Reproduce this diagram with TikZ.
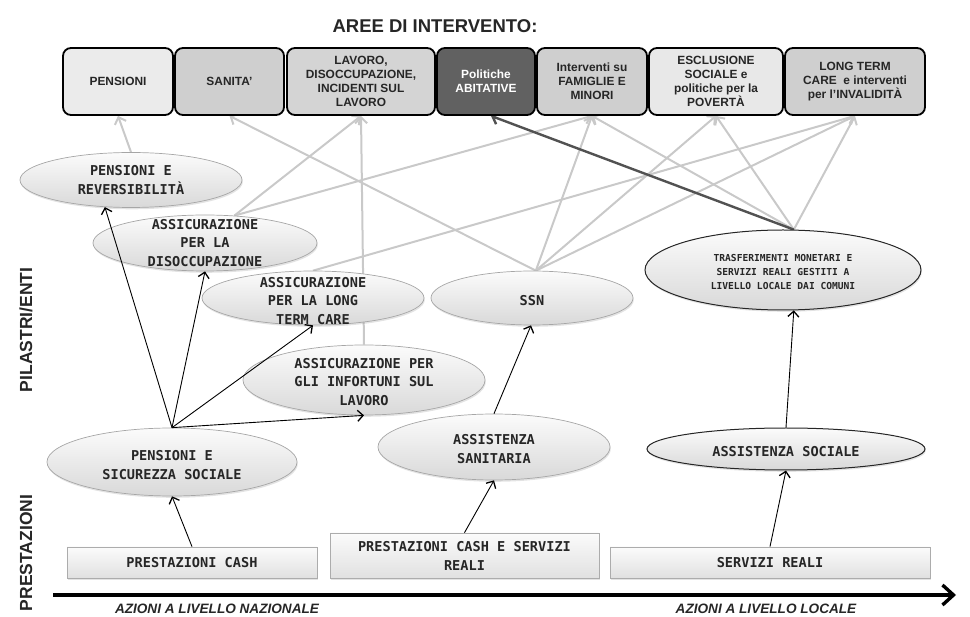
\documentclass[tikz,border=0pt]{standalone}
\usepackage{fontspec}
\setmainfont{Liberation Sans}
\newfontfamily\monofam{DejaVu Sans Mono}
\usetikzlibrary{shapes.geometric,arrows.meta,backgrounds,shadows}

\begin{document}
\begin{tikzpicture}[x=1pt,y=-1pt,
  areabox/.style={draw=black, line width=1.8pt, rounded corners=8pt,
    minimum height=67pt, inner sep=1pt, align=center, text=black!85,
    font=\fontsize{11.9}{14}\selectfont\bfseries},
  ente/.style={ellipse, draw=gray!70, line width=0.7pt, top color=gray!3,
    bottom color=gray!30, inner sep=0pt,
    drop shadow={opacity=0.22, shadow xshift=0.8pt, shadow yshift=-1.8pt}},
  entedark/.style={ente, draw=black!85, line width=1pt},
  entetext/.style={align=center, text=black!85, inner sep=0pt,
    font=\monofam\bfseries\fontsize{13.6}{18.6}\selectfont},
  prest/.style={rectangle, draw=gray!65, line width=0.7pt, top color=gray!3,
    bottom color=gray!24, inner sep=0pt, align=center, text=black!85,
    font=\monofam\bfseries\fontsize{13.6}{19}\selectfont,
    drop shadow={opacity=0.22, shadow xshift=0.8pt, shadow yshift=-1.5pt}},
  link/.style={draw=gray!42, line width=2pt,
    -{Straight Barb[length=6pt,width=12pt]}},
  linkdark/.style={draw=black!68, line width=2.4pt,
    -{Straight Barb[length=6pt,width=12pt]}},
  feed/.style={draw=black, line width=0.9pt,
    -{Straight Barb[length=5.5pt,width=11pt,line width=1.3pt]}},
  sidelabel/.style={rotate=90, font=\fontsize{17.5}{20}\selectfont\bfseries, text=black!85},
  axislabel/.style={anchor=base, font=\fontsize{13.6}{16}\selectfont\bfseries\itshape, text=black!85}
]
\useasboundingbox (0,0) rectangle (970,617);

% title
\node[font=\fontsize{18.5}{20}\selectfont\bfseries, text=black!85] (title) at (435,26) {AREE DI INTERVENTO:};

% areas of intervention
\node[areabox, fill=black!8,  minimum width=110pt] (pens) at (118,81.5) {PENSIONI};
\node[areabox, fill=black!19, minimum width=109pt] (san)  at (229.5,81.5) {SANITA'};
\node[areabox, fill=black!17, minimum width=148pt] (lav)  at (361,81.5) {LAVORO,\\DISOCCUPAZIONE,\\INCIDENTI SUL\\LAVORO};
\node[areabox, fill=black!62, minimum width=98pt, text=white] (abit) at (486,81.5) {Politiche\\ABITATIVE};
\node[areabox, fill=black!19, minimum width=110pt] (fam)  at (592,81.5) {Interventi su\\FAMIGLIE E\\MINORI};
\node[areabox, fill=black!9,  minimum width=134pt] (escl) at (716,81.5) {ESCLUSIONE\\SOCIALE e\\politiche per la\\POVERTÀ};
\node[areabox, fill=black!19, minimum width=140pt] (ltcarea) at (855,81.5) {LONG TERM\\CARE\ \ e interventi\\per l'INVALIDITÀ};

% side labels
\node[sidelabel] (pilastri) at (26,330) {PILASTRI/ENTI};
\node[sidelabel] (prestlab) at (26,553) {PRESTAZIONI};

% pillars / bodies
\node[ente, minimum width=222pt, minimum height=55pt,
  label={[entetext]center:PENSIONI E\\REVERSIBILITÀ}] (pensrev) at (131,180) {};
\node[ente, minimum width=224pt, minimum height=56pt,
  label={[entetext]center:ASSICURAZIONE\\PER LA\\DISOCCUPAZIONE}] (disocc) at (205,243) {};
\node[ente, minimum width=222pt, minimum height=54pt,
  label={[entetext, yshift=-3pt]center:ASSICURAZIONE\\PER LA LONG\\TERM CARE}] (ltc) at (313,298) {};
\node[ente, minimum width=202pt, minimum height=54pt,
  label={[entetext, yshift=-3pt]center:SSN}] (ssn) at (532,298) {};
\node[entedark, minimum width=276pt, minimum height=80pt,
  label={[entetext, font=\monofam\bfseries\fontsize{9.6}{14.2}\selectfont, yshift=-2pt]center:TRASFERIMENTI MONETARI E\\SERVIZI REALI GESTITI A\\LIVELLO LOCALE DAI COMUNI}] (trasf) at (783,270) {};
\node[ente, minimum width=242pt, minimum height=70pt,
  label={[entetext, yshift=-2pt]center:ASSICURAZIONE PER\\GLI INFORTUNI SUL\\LAVORO}] (infort) at (364,380) {};
\node[ente, minimum width=250pt, minimum height=68pt,
  label={[entetext, yshift=-3pt]center:PENSIONI E\\SICUREZZA SOCIALE}] (penssoc) at (172,462) {};
\node[ente, minimum width=232pt, minimum height=66pt,
  label={[entetext, yshift=-2pt]center:ASSISTENZA\\SANITARIA}] (asssan) at (494,447) {};
\node[entedark, minimum width=278pt, minimum height=42pt,
  label={[entetext, yshift=-3pt]center:ASSISTENZA SOCIALE}] (asssoc) at (786,449) {};

% benefits
\node[prest, minimum width=250pt, minimum height=31pt] (pcash) at (192,562.5) {PRESTAZIONI CASH};
\node[prest, minimum width=269pt, minimum height=45pt] (pcsr) at (464.5,555.5) {PRESTAZIONI CASH E SERVIZI\\REALI};
\node[prest, minimum width=320pt, minimum height=31pt] (sreali) at (770,562.5) {SERVIZI REALI};

% links from the bodies to the areas
\begin{pgfonlayer}{background}
  \draw[link] (pensrev.north) -- (pens.south);
  \draw[link] (ssn.82) -- (san.south);
  \draw[link] (disocc.43) -- (lav.south);
  \draw[link] (disocc.43) -- (fam.south);
  \draw[link] (infort.north) -- (lav.south);
  \draw[link] (ltc.north) -- (ltcarea.south);
  \draw[link] (ssn.82) -- (fam.south);
  \draw[link] (ssn.82) -- (escl.south);
  \draw[link] (ssn.82) -- (ltcarea.south);
  \draw[link] (trasf.75) -- (fam.south);
  \draw[link] (trasf.75) -- (escl.south);
  \draw[link] (trasf.75) -- (ltcarea.south);
  \draw[linkdark] (trasf.75) -- ([xshift=5pt]abit.south);
\end{pgfonlayer}

% feeding arrows
\draw[feed] (pcash.north) -- (penssoc.south);
\draw[feed] (pcsr.north) -- (asssan.south);
\draw[feed] (sreali.north) -- (asssoc.south);
\draw[feed] (penssoc.north) -- (pensrev.226);
\draw[feed] (penssoc.north) -- (disocc.south);
\draw[feed] (penssoc.north) -- (ltc.south);
\draw[feed] (penssoc.north) -- (infort.south);
\draw[feed] (asssan.north) -- (ssn.268);
\draw[feed] (asssoc.north) -- (trasf.285);

% axis
\coordinate (axstart) at (53,595);
\coordinate (axend) at (956,595);
\draw[line width=3.4pt, -{Straight Barb[length=11pt,width=20pt]}] (axstart) -- (axend);
\node[axislabel] (naz) at (217,613) {AZIONI A LIVELLO NAZIONALE};
\node[axislabel] (loc) at (766,613) {AZIONI A LIVELLO LOCALE};
\end{tikzpicture}
\end{document}
